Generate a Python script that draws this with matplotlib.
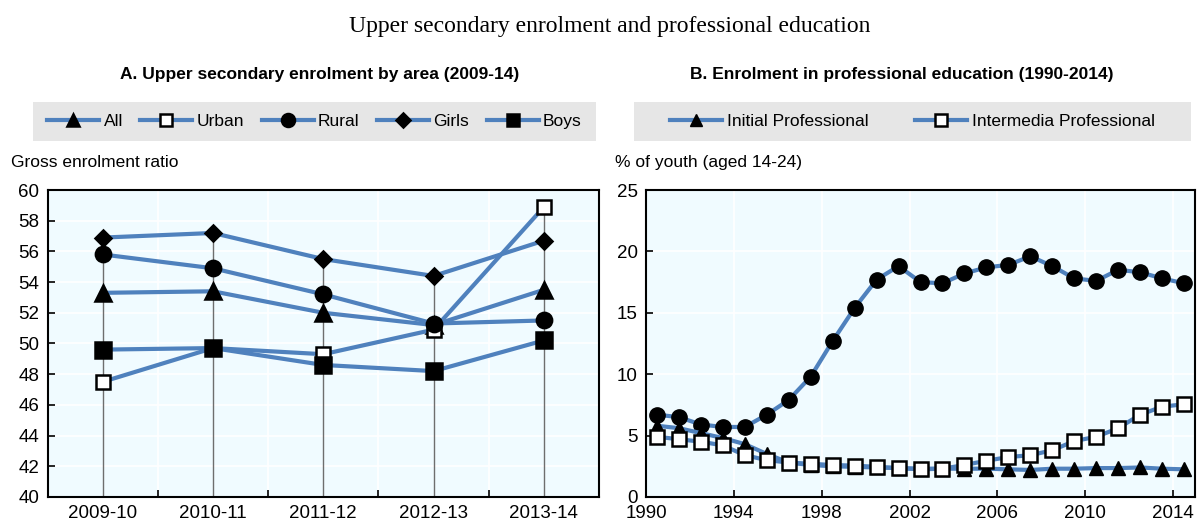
import numpy as np
import matplotlib.pyplot as plt
from matplotlib.patches import Rectangle

# Panel A data
periods = ['2009-10', '2010-11', '2011-12', '2012-13', '2013-14']
all_ratio = [53.3, 53.4, 52.0, 51.2, 53.5]
urban = [47.5, 49.7, 49.3, 50.9, 58.9]
rural = [55.8, 54.9, 53.2, 51.3, 51.5]
girls = [56.9, 57.2, 55.5, 54.4, 56.7]
boys = [49.6, 49.7, 48.6, 48.2, 50.2]

# Panel B data
years = list(range(1990, 2015))
initial_prof = [5.8, 5.6, 5.2, 4.8, 4.3, 3.5, 2.8, 2.6, 2.5, 2.45, 2.4, 2.35, 2.3, 2.3, 2.3,
                2.3, 2.25, 2.2, 2.3, 2.3, 2.35, 2.35, 2.4, 2.3, 2.25]
intermedia_prof = [4.9, 4.7, 4.5, 4.2, 3.4, 3.0, 2.8, 2.7, 2.6, 2.55, 2.45, 2.35, 2.25, 2.3, 2.6,
                   2.95, 3.25, 3.4, 3.8, 4.55, 4.9, 5.6, 6.7, 7.35, 7.55]
total_prof = [6.7, 6.5, 5.9, 5.7, 5.7, 6.7, 7.9, 9.8, 12.7, 15.4, 17.7, 18.8, 17.5, 17.4, 18.2,
              18.7, 18.9, 19.6, 18.8, 17.8, 17.6, 18.5, 18.3, 17.8, 17.4]

FONT = ['Liberation Sans Narrow', 'Liberation Sans', 'DejaVu Sans']
plt.rcParams['font.family'] = FONT
plt.rcParams['font.size'] = 12.5

BLUE = '#4f81bd'
BG = '#f0fbff'
LEG_BG = '#e6e6e6'

fig = plt.figure(figsize=(12.03, 5.22), dpi=100)
axA = fig.add_axes([0.0395, 0.048, 0.4585, 0.588])
axB = fig.add_axes([0.537, 0.048, 0.4564, 0.588])

fig.text(0.507, 0.95, 'Upper secondary enrolment and professional education',
         ha='center', va='center', family=['Liberation Serif', 'DejaVu Serif'], fontsize=17)
fig.text(0.266, 0.857, 'A. Upper secondary enrolment by area (2009-14)',
         ha='center', va='center', fontweight='bold', fontsize=12.5)
fig.text(0.75, 0.857, 'B. Enrolment in professional education (1990-2014)',
         ha='center', va='center', fontweight='bold', fontsize=12.5)
fig.text(0.009, 0.688, 'Gross enrolment ratio', ha='left', va='center', fontsize=12.5)
fig.text(0.511, 0.688, '% of youth (aged 14-24)', ha='left', va='center', fontsize=12.5)

# grey legend strips, drawn underneath everything
fig.patches.append(Rectangle((0.0274, 0.730), 0.468, 0.075, transform=fig.transFigure,
                             facecolor=LEG_BG, edgecolor='none', zorder=-5))
fig.patches.append(Rectangle((0.527, 0.730), 0.463, 0.075, transform=fig.transFigure,
                             facecolor=LEG_BG, edgecolor='none', zorder=-5))


def style_axes(ax):
    ax.set_facecolor(BG)
    for s in ax.spines.values():
        s.set_color('black')
        s.set_linewidth(1.5)
    ax.tick_params(direction='in', length=5, width=1.2, labelsize=13.5, pad=6)
    ax.grid(True, which='major', axis='y', color='white', linewidth=1.2)
    ax.set_axisbelow(True)


# Panel A
x = np.arange(len(periods))
style_axes(axA)
series_a = [
    ('All', all_ratio, '^', 'black', 11),
    ('Urban', urban, 's', 'white', 10),
    ('Rural', rural, 'o', 'black', 11),
    ('Girls', girls, 'D', 'black', 8),
    ('Boys', boys, 's', 'black', 11),
]
tops = np.max([s[1] for s in series_a], axis=0)
axA.vlines(x, 40, tops, color='#6e6e6e', linewidth=1, zorder=2)
for label, vals, m, fc, ms in series_a:
    axA.plot(x, vals, color=BLUE, linewidth=3, marker=m, markersize=ms,
             markerfacecolor=fc, markeredgecolor='black', markeredgewidth=1.8,
             label=label, zorder=3)
axA.set_xlim(-0.5, len(periods) - 0.5)
axA.set_ylim(40, 60)
axA.set_yticks(np.arange(40, 61, 2))
axA.set_xticks(x)
axA.set_xticklabels(periods)
axA.set_xticks(x[:-1] + 0.5, minor=True)
axA.tick_params(axis='x', which='major', length=0)
axA.tick_params(axis='x', which='minor', direction='in', length=5, width=1.2)
axA.grid(True, which='minor', axis='x', color='white', linewidth=1.2)
axA.legend(loc='center', bbox_to_anchor=(0.2614, 0.7675),
           bbox_transform=fig.transFigure, ncol=5, frameon=False,
           handlelength=3.0, handletextpad=0.25, columnspacing=1.0,
           fontsize=12.5, markerscale=0.85)

# Panel B
xb = np.array(years) + 0.5
style_axes(axB)
axB.plot(xb, total_prof, color=BLUE, linewidth=3, marker='o', markersize=11,
         markerfacecolor='black', markeredgecolor='black', zorder=3)
axB.plot(xb, initial_prof, color=BLUE, linewidth=3, marker='^', markersize=10,
         markerfacecolor='black', markeredgecolor='black', label='Initial Professional', zorder=4)
axB.plot(xb, intermedia_prof, color=BLUE, linewidth=3, marker='s', markersize=10,
         markerfacecolor='white', markeredgecolor='black', markeredgewidth=1.8,
         label='Intermedia Professional', zorder=5)
axB.set_xlim(1990, 2015)
axB.set_ylim(0, 25)
axB.set_yticks(np.arange(0, 26, 5))
axB.set_xticks(np.arange(1990, 2015, 4))
axB.grid(True, which='major', axis='x', color='white', linewidth=1.2)
axB.legend(loc='center', bbox_to_anchor=(0.7585, 0.7675),
           bbox_transform=fig.transFigure, ncol=2, frameon=False,
           handlelength=3.0, handletextpad=0.25, columnspacing=2.7,
           fontsize=12.5, markerscale=0.85)

fig.savefig('out.png', dpi=100)
